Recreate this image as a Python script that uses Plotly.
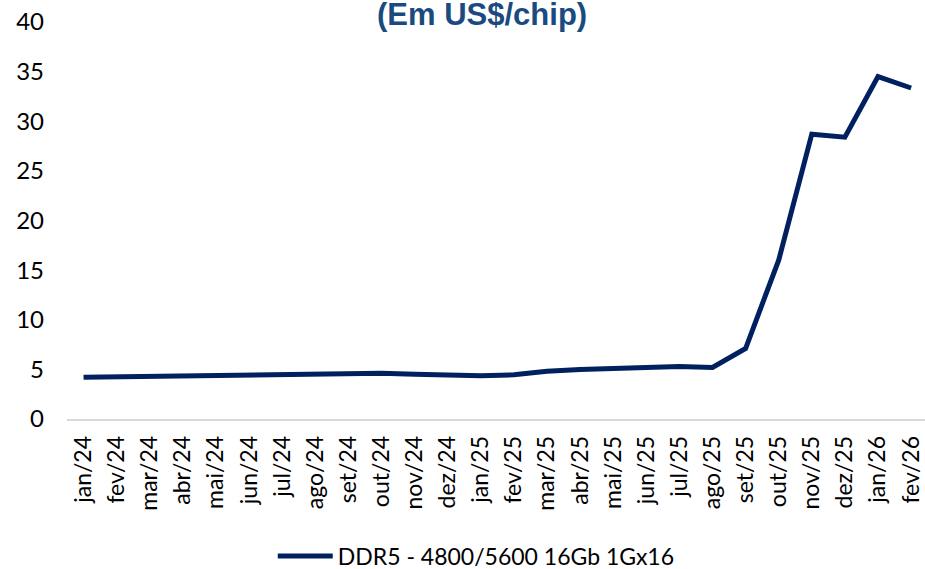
import plotly.graph_objects as go

meses = ["jan/24", "fev/24", "mar/24", "abr/24", "mai/24", "jun/24", "jul/24",
         "ago/24", "set/24", "out/24", "nov/24", "dez/24", "jan/25", "fev/25",
         "mar/25", "abr/25", "mai/25", "jun/25", "jul/25", "ago/25", "set/25",
         "out/25", "nov/25", "dez/25", "jan/26", "fev/26"]

ddr5 = [4.2, 4.25, 4.25, 4.3, 4.3, 4.35, 4.5, 4.55, 4.6, 4.6, 4.5, 4.45, 4.35,
        4.45, 4.8, 5.0, 5.1, 5.3, 5.3, 5.2, 7.1, 16.0, 28.7, 28.4, 34.5, 33.35]

serie_nome = "DDR5 - 4800/5600 16Gb 1Gx16"
titulo = "(Em US$/chip)"

fonte = "Lato, Calibri, Liberation Sans, sans-serif"

fig = go.Figure()
fig.add_trace(go.Scatter(
    x=meses,
    y=ddr5,
    mode="lines",
    name=serie_nome,
    line=dict(color="#002060", width=5),
))

fig.update_layout(
    width=925,
    height=569,
    margin=dict(t=22, l=67, r=0, b=150, autoexpand=False),
    plot_bgcolor="white",
    paper_bgcolor="white",
    font=dict(family=fonte, size=23, color="black"),
    showlegend=True,
    legend=dict(
        orientation="h",
        x=0.477, xanchor="center",
        y=-0.345, yanchor="middle",
        font=dict(family=fonte, size=23, color="black"),
        itemwidth=55,
    ),
    xaxis=dict(
        type="category",
        range=[-0.5, 25.42],
        automargin=False,
        showgrid=False,
        showline=True,
        linecolor="#D9D9D9",
        linewidth=1.5,
        ticks="",
        tickangle=-90,
        ticklabelstandoff=6,
        tickfont=dict(family=fonte, size=23, color="black"),
        zeroline=False,
    ),
    yaxis=dict(
        range=[0, 40],
        automargin=False,
        tickvals=[0, 5, 10, 15, 20, 25, 30, 35, 40],
        showgrid=False,
        showline=False,
        zeroline=False,
        ticks="",
        ticklabelstandoff=22,
        tickfont=dict(family=fonte, size=24, color="black"),
    ),
    annotations=[dict(
        text="<b>" + titulo + "</b>",
        xref="paper", yref="paper",
        x=0.4837, y=1.0185,
        xanchor="center", yanchor="middle",
        showarrow=False,
        font=dict(family="Liberation Sans, Arial, sans-serif", size=31, color="#1A4A80"),
    )],
)

# a página tem margem de 8px no body; zera para o gráfico ocupar a janela toda
fig.write_html("out.html", config={"displayModeBar": False},
               post_script="document.body.style.margin='0';")
